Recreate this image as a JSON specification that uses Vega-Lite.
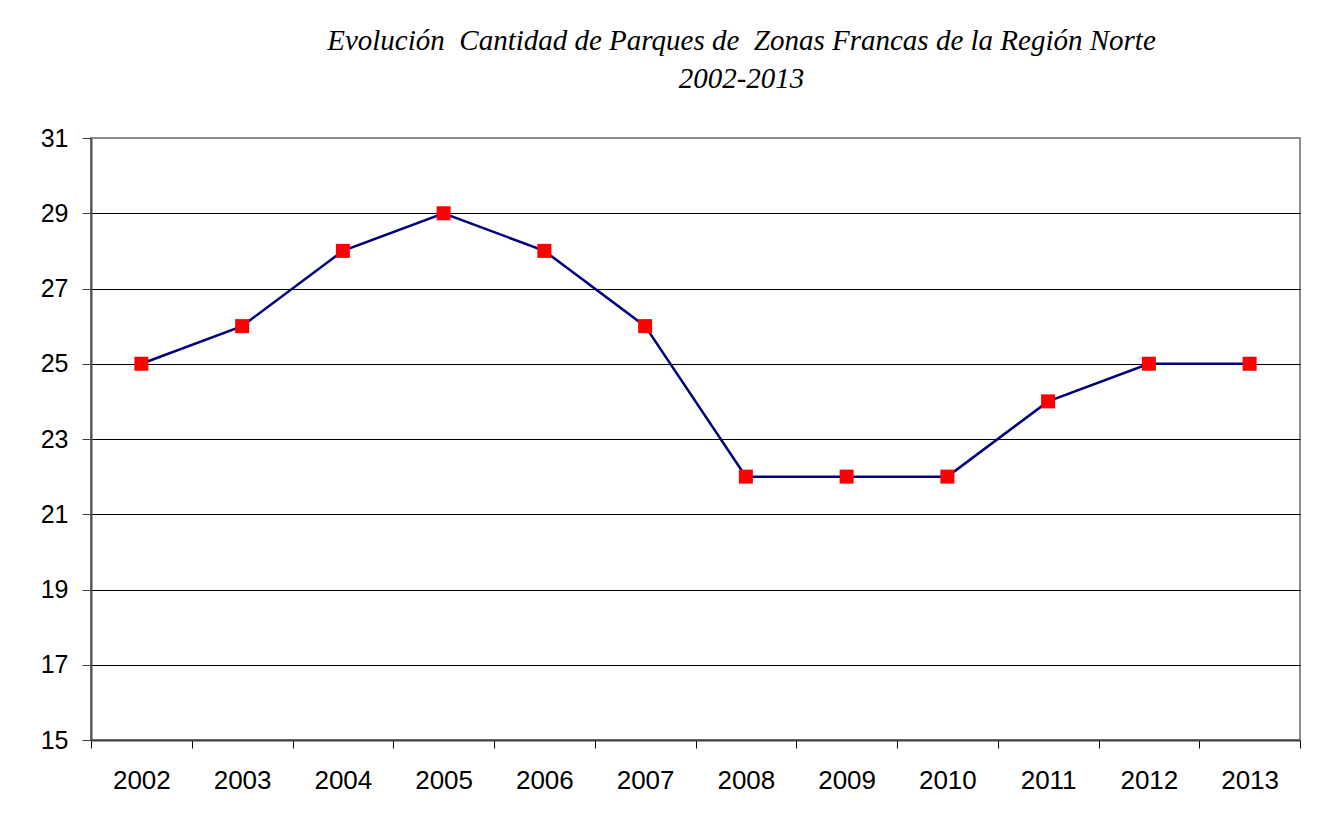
{
  "$schema": "https://vega.github.io/schema/vega-lite/v6.json",
  "width": 1209,
  "height": 602,
  "autosize": {"type": "none"},
  "padding": {"left": 91, "top": 138, "right": 23, "bottom": 87},
  "background": "white",
  "title": {
    "text": ["Evolución\u00a0 Cantidad de Parques de\u00a0 Zonas Francas de la Región Norte", "2002-2013"],
    "font": "Liberation Serif",
    "fontStyle": "italic",
    "fontWeight": "normal",
    "fontSize": 29,
    "lineHeight": 38,
    "color": "black",
    "anchor": "middle",
    "frame": "group",
    "dx": 46,
    "offset": 32
  },
  "config": {
    "view": {"stroke": "#8c8c8c", "strokeWidth": 2},
    "axis": {
      "labelFont": "Liberation Sans",
      "labelFontSize": 25,
      "labelColor": "black",
      "titleFontSize": 0
    }
  },
  "data": {
    "values": [
      {"year": "2002", "parques": 25},
      {"year": "2003", "parques": 26},
      {"year": "2004", "parques": 28},
      {"year": "2005", "parques": 29},
      {"year": "2006", "parques": 28},
      {"year": "2007", "parques": 26},
      {"year": "2008", "parques": 22},
      {"year": "2009", "parques": 22},
      {"year": "2010", "parques": 22},
      {"year": "2011", "parques": 24},
      {"year": "2012", "parques": 25},
      {"year": "2013", "parques": 25}
    ]
  },
  "encoding": {
    "x": {
      "field": "year",
      "type": "ordinal",
      "scale": {"type": "band", "paddingInner": 0, "paddingOuter": 0},
      "axis": {
        "title": null,
        "labelAngle": 0,
        "labelFontSize": 26,
        "tickBand": "extent",
        "tickSize": 8,
        "tickColor": "black",
        "tickWidth": 1,
        "domainColor": "#404040",
        "domainWidth": 2,
        "labelPadding": 19,
        "grid": false
      }
    },
    "y": {
      "field": "parques",
      "type": "quantitative",
      "scale": {"domain": [15, 31], "nice": false, "zero": false},
      "axis": {
        "title": null,
        "values": [15, 17, 19, 21, 23, 25, 27, 29, 31],
        "tickSize": 9,
        "tickColor": "#404040",
        "tickWidth": 1,
        "domainColor": "#505050",
        "domainWidth": 2,
        "labelPadding": 14,
        "labelBaseline": "middle",
        "grid": true,
        "gridColor": {"condition": {"test": "datum.value == 31 || datum.value == 15", "value": "#8c8c8c"}, "value": "black"},
        "gridWidth": 1,
        "gridOpacity": 1
      }
    }
  },
  "layer": [
    {
      "mark": {"type": "line", "color": "#000080", "strokeWidth": 2.5}
    },
    {
      "mark": {"type": "point", "shape": "square", "filled": true, "color": "#ff0000", "size": 196, "opacity": 1}
    }
  ]
}
